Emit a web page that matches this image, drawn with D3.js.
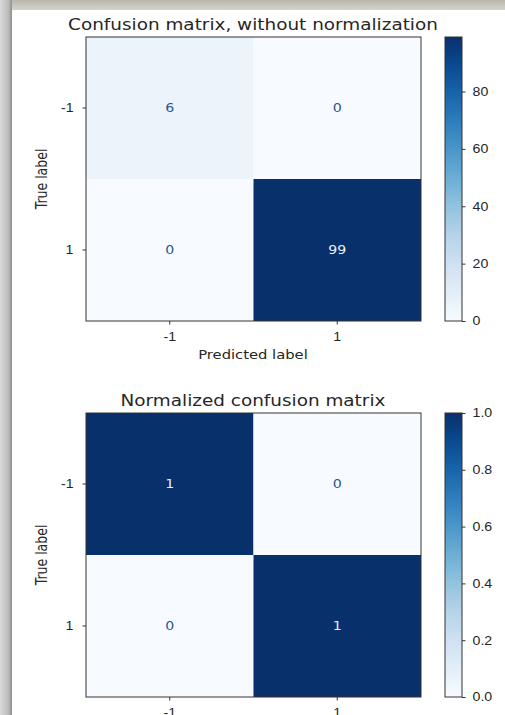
<!DOCTYPE html>
<html>
<head>
<meta charset="utf-8">
<script src="https://cdn.jsdelivr.net/npm/d3@7"></script>
<style>
  body { margin: 0; background: #fff; }
  svg { display: block; font-family: "DejaVu Sans", sans-serif; }
</style>
</head>
<body>
<div id="chart"></div>
<script>
// values
const classes = ["-1", "1"];
const countValues = [[6, 0], [0, 99]];
const normValues = [[1, 0], [0, 1]];
const countTicks = [0, 20, 40, 60, 80];
const normTicks = [0, 0.2, 0.4, 0.6, 0.8, 1.0];
const titles = ["Confusion matrix, without normalization", "Normalized confusion matrix"];
const xTitle = "Predicted label";
const yTitle = "True label";

const width = 505, height = 715;
const stretch = 1.18; // the screenshot is a bit wider than tall
const ink = "#262626";

const svg = d3.select("#chart").append("svg")
    .attr("width", width)
    .attr("height", height);

const defs = svg.append("defs");

// blurry window frame round the figure
const lg = defs.append("linearGradient").attr("id", "leftEdge");
lg.append("stop").attr("offset", "0%").attr("stop-color", "#d8d8d8");
lg.append("stop").attr("offset", "70%").attr("stop-color", "#bcbcbc");
lg.append("stop").attr("offset", "100%").attr("stop-color", "#8e8e8e");
const tg = defs.append("linearGradient").attr("id", "topEdge")
    .attr("x1", 0).attr("y1", 0).attr("x2", 0).attr("y2", 1);
tg.append("stop").attr("offset", "0%").attr("stop-color", "#b9b6ae");
tg.append("stop").attr("offset", "100%").attr("stop-color", "#d6d3cc");

svg.append("rect").attr("width", width).attr("height", 10).attr("fill", "url(#topEdge)");
svg.append("rect").attr("y", 0).attr("width", 12).attr("height", height).attr("fill", "url(#leftEdge)");

const x = d3.scaleBand(classes, [86, 421]);
const plotH = 284;

const panels = [
  {title: titles[0], values: countValues, ticks: countTicks, fmt: d3.format("d"), top: 37, max: 99},
  {title: titles[1], values: normValues, ticks: normTicks, fmt: d3.format(".1f"), top: 413, max: 1}
];

function stretchText(sel) {
  sel.each(function() {
    const len = this.getComputedTextLength();
    d3.select(this).attr("textLength", len * stretch).attr("lengthAdjust", "spacingAndGlyphs");
  });
}

panels.forEach((p, k) => {
  const y = d3.scaleBand(classes, [p.top, p.top + plotH]);
  const color = d3.scaleSequential(d3.interpolateBlues).domain([0, p.max]);
  const cells = p.values.flatMap((row, i) => row.map((v, j) => ({r: classes[i], c: classes[j], v})));

  const g = svg.append("g");

  g.append("text")
      .attr("x", 253)
      .attr("y", p.top - 7)
      .attr("text-anchor", "middle")
      .attr("font-size", 15.6)
      .attr("fill", ink)
      .text(p.title)
      .call(stretchText);

  g.selectAll("rect.cell")
    .data(cells)
    .join("rect")
      .attr("class", "cell")
      .attr("x", d => x(d.c))
      .attr("y", d => y(d.r))
      .attr("width", x.bandwidth())
      .attr("height", y.bandwidth())
      .attr("fill", d => color(d.v));

  g.selectAll("text.val")
    .data(cells)
    .join("text")
      .attr("class", "val")
      .attr("x", d => x(d.c) + x.bandwidth() / 2)
      .attr("y", d => y(d.r) + y.bandwidth() / 2)
      .attr("dy", "0.35em")
      .attr("text-anchor", "middle")
      .attr("font-size", 12)
      .attr("fill", d => d.v > p.max / 2 ? "#e8eef6" : "#2a5592")
      .text(d => d.v)
      .call(stretchText);

  g.append("rect")
      .attr("x", 86).attr("y", p.top)
      .attr("width", 335).attr("height", plotH)
      .attr("fill", "none")
      .attr("stroke", "#333")
      .attr("stroke-width", 1);

  const yAxis = g.append("g")
      .attr("transform", "translate(86,0)")
      .call(d3.axisLeft(y).tickSize(3.5).tickPadding(9));
  yAxis.select(".domain").remove();
  yAxis.selectAll("line").attr("stroke", "#333");
  yAxis.selectAll("text").attr("font-size", 12).attr("fill", ink).call(stretchText);

  const xAxis = g.append("g")
      .attr("transform", `translate(0,${p.top + plotH})`)
      .call(d3.axisBottom(x).tickSize(3.5).tickPadding(7.5));
  xAxis.select(".domain").remove();
  xAxis.selectAll("line").attr("stroke", "#333");
  xAxis.selectAll("text").attr("font-size", 12).attr("fill", ink).call(stretchText);

  if (k === 0) {
    g.append("text")
        .attr("x", 253)
        .attr("y", p.top + plotH + 38)
        .attr("text-anchor", "middle")
        .attr("font-size", 12.5)
        .attr("fill", ink)
        .text(xTitle)
        .call(stretchText);
  }

  g.append("text")
      .attr("transform", `translate(47,${p.top + plotH / 2}) rotate(-90) scale(1,${stretch + 0.1})`)
      .attr("text-anchor", "middle")
      .attr("font-size", 12.5)
      .attr("fill", ink)
      .text(yTitle);

  // colour bar
  const cbY = d3.scaleLinear([0, p.max], [p.top + plotH, p.top]);
  const gid = "cb" + k;
  const grad = defs.append("linearGradient").attr("id", gid)
      .attr("x1", 0).attr("y1", 1).attr("x2", 0).attr("y2", 0);
  d3.range(0, 1.0001, 0.1).forEach(t => {
    grad.append("stop").attr("offset", `${t * 100}%`).attr("stop-color", d3.interpolateBlues(t));
  });
  g.append("rect")
      .attr("x", 445).attr("y", p.top)
      .attr("width", 17).attr("height", plotH)
      .attr("fill", `url(#${gid})`)
      .attr("stroke", "#333")
      .attr("stroke-width", 1);

  const cbAxis = g.append("g")
      .attr("transform", "translate(462,0)")
      .call(d3.axisRight(cbY).tickValues(p.ticks).tickFormat(p.fmt).tickSize(3.5).tickPadding(7));
  cbAxis.select(".domain").remove();
  cbAxis.selectAll("line").attr("stroke", "#333");
  cbAxis.selectAll("text").attr("font-size", 12).attr("fill", ink).call(stretchText);
});
</script>
</body>
</html>
